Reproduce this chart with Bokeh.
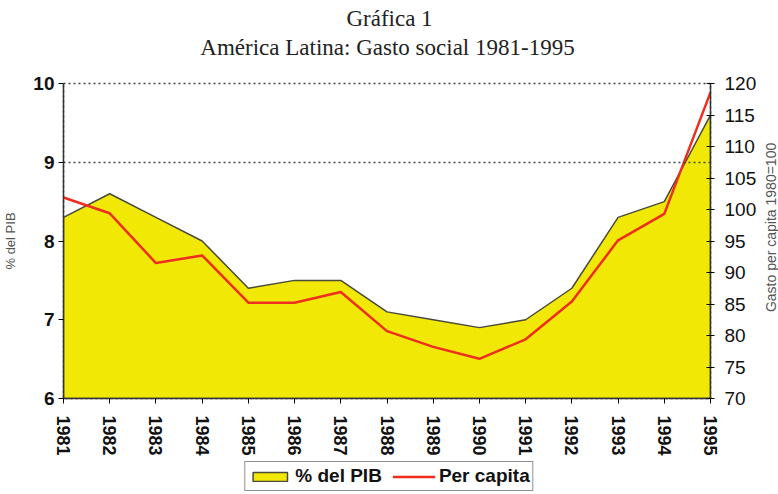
import math
from bokeh.plotting import figure
from bokeh.layouts import column, row
from bokeh.core.properties import value
from bokeh.models import Range1d, LinearAxis, FixedTicker, Legend, LegendItem
from bokeh.embed import file_html
from bokeh.resources import INLINE

# Gasto social en América Latina, 1981-1995
years = list(range(1981, 1996))
pib_pct = [8.3, 8.6, 8.3, 8.0, 7.4, 7.5, 7.5, 7.1, 7.0, 6.9, 7.0, 7.4, 8.3, 8.5, 9.6]
per_capita = [101.9, 99.4, 91.5, 92.7, 85.2, 85.2, 86.9, 80.7, 78.2, 76.3, 79.4, 85.4, 95.1, 99.3, 118.6]
pib_ticks = [6, 7, 8, 9, 10]
pib_grid = [9, 10]
pc_ticks = list(range(70, 121, 5))
heading = ["Gráfica 1", "América Latina: Gasto social 1981-1995"]
right_label = "Gasto per capita  1980=100"

FILL = "#F2E805"
EDGE = "#4a4a3a"
RED = "#EE2E1E"
SANS = "Liberation Sans"
SERIF = "Liberation Serif"

W = 778
H_HEAD = 62
H_KEY = 36
W_SIDE = 16
W_MAIN = W - W_SIDE
H_MAIN = 494 - H_HEAD - H_KEY


def bare(width, height, x_range, y_range):
    f = figure(width=width, height=height, output_backend="svg", toolbar_location=None,
               x_range=x_range, y_range=y_range,
               x_axis_location=None, y_axis_location=None, min_border=0)
    f.outline_line_color = None
    f.grid.visible = False
    return f


# heading strip (pixel coordinates, y measured downward)
head = bare(W, H_HEAD, Range1d(0, W), Range1d(H_HEAD, 0))
head.text(x=[389, 387], y=[18, 47], text=heading,
          text_font=value(SERIF), text_font_size="23px", text_color="#222222",
          text_align="center", text_baseline="middle")

# main chart
p = figure(width=W_MAIN, height=H_MAIN, output_backend="svg", toolbar_location=None,
           x_range=Range1d(years[0], years[-1]),
           y_range=Range1d(pib_ticks[0], pib_ticks[-1]),
           min_border_left=62, min_border_right=52,
           min_border_top=21, min_border_bottom=60)
p.extra_y_ranges = {"pc": Range1d(pc_ticks[0], pc_ticks[-1])}
p.outline_line_color = "#444444"
p.outline_line_dash = "2 3"
p.outline_line_width = 1.5
p.background_fill_color = "white"
p.border_fill_color = "white"

# % of GDP as a filled area, closed along the bottom of the left scale
xs = years + [years[-1], years[0]]
ys = pib_pct + [pib_ticks[0], pib_ticks[0]]
area = p.patch(xs, ys, fill_color=FILL, line_color=EDGE, line_width=1.5)

# per-capita spending on the right scale
line = p.line(years, per_capita, y_range_name="pc", line_color=RED, line_width=2.5)

# grid: dotted lines at 9 and 10 only
p.xgrid.visible = False
p.ygrid.ticker = FixedTicker(ticks=pib_grid)
p.ygrid.grid_line_color = "#444444"
p.ygrid.grid_line_dash = "2 3"
p.ygrid.grid_line_width = 1.5
p.ygrid.level = "overlay"

# bottom axis (years)
xa = p.xaxis[0]
xa.ticker = FixedTicker(ticks=years)
xa.major_label_orientation = -math.pi / 2
xa.major_label_text_font = SANS
xa.major_label_text_font_style = "bold"
xa.major_label_text_font_size = "18px"
xa.major_label_text_color = "#111111"
xa.major_tick_out = 5
xa.major_tick_in = 0
xa.minor_tick_line_color = None
xa.major_label_standoff = 12
xa.axis_line_color = "#333333"
xa.axis_line_width = 1.5

# left axis (% del PIB)
ya = p.yaxis[0]
ya.ticker = FixedTicker(ticks=pib_ticks)
ya.axis_label = "% del PIB"
ya.axis_label_text_font = SANS
ya.axis_label_text_font_size = "13px"
ya.axis_label_text_font_style = "normal"
ya.axis_label_text_color = "#555555"
ya.axis_label_standoff = 12
ya.major_label_text_font = SANS
ya.major_label_text_font_style = "bold"
ya.major_label_text_font_size = "19px"
ya.major_label_text_color = "#111111"
ya.major_tick_out = 5
ya.major_tick_in = 0
ya.minor_tick_line_color = None
ya.major_label_standoff = 4
ya.axis_line_color = "#333333"
ya.axis_line_width = 1.5

# right axis (index, 1980=100)
ra = LinearAxis(y_range_name="pc", ticker=FixedTicker(ticks=pc_ticks))
ra.major_label_text_font = SANS
ra.major_label_text_font_style = "normal"
ra.major_label_text_font_size = "19px"
ra.major_label_text_color = "#111111"
ra.major_tick_out = 4
ra.major_tick_in = 4
ra.minor_tick_line_color = None
ra.major_label_standoff = 10
ra.axis_line_color = "#333333"
ra.axis_line_width = 1.5
p.add_layout(ra, "right")

# right-hand axis title, reading upward, centred on the plot frame
side = bare(W_SIDE, H_MAIN, Range1d(0, W_SIDE), Range1d(H_MAIN, 0))
side.text(x=[W_SIDE / 2], y=[21 + 315 / 2], text=[right_label], angle=math.pi / 2,
          text_font=value(SANS), text_font_size="14px", text_color="#555555",
          text_align="center", text_baseline="middle")

# key strip under the chart: same series, kept out of view, only the legend shows
key = bare(W, H_KEY, Range1d(0, 1), Range1d(0, 1))
key_area = key.patch(xs, ys, fill_color=FILL, line_color=EDGE, line_width=1.5)
key_line = key.line(years, per_capita, line_color=RED, line_width=2.5)

legend = Legend(items=[LegendItem(label="% del PIB", renderers=[key_area]),
                       LegendItem(label="Per capita", renderers=[key_line])],
                orientation="horizontal", location="center",
                label_text_font=SANS, label_text_font_style="bold",
                label_text_font_size="19px", label_text_color="#111111",
                glyph_width=43, glyph_height=11, label_standoff=4, spacing=10,
                padding=3, margin=0, label_height=18,
                border_line_color="#222222", border_line_width=1.5,
                background_fill_color="white", background_fill_alpha=1.0)
key.add_layout(legend, "center")

layout = column(head, row(p, side, spacing=0), key, spacing=0)
open("out.html", "w").write(file_html(layout, INLINE))
